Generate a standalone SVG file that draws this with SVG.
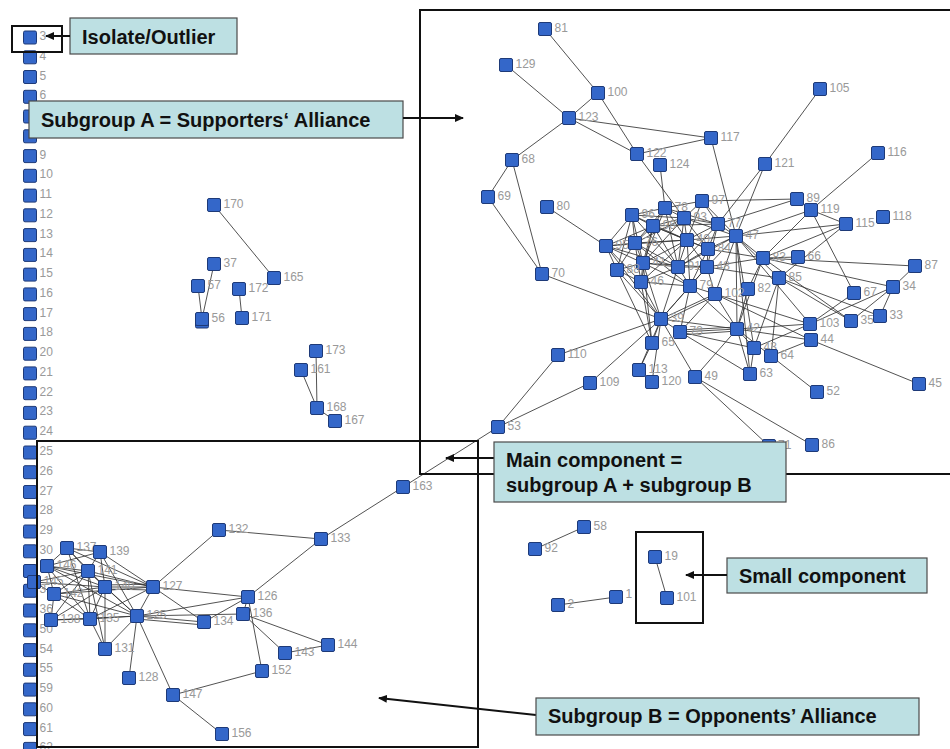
<svg xmlns="http://www.w3.org/2000/svg" xmlns:xlink="http://www.w3.org/1999/xlink" width="950" height="749" viewBox="0 0 950 749">
<style>
  .bg{fill:#ffffff}
  .ed line{stroke:#333;stroke-width:0.85;fill:none}
  .nd use{fill:#3467c9;stroke:#1e3a78;stroke-width:1}
  .nd text{font-family:"Liberation Sans",Arial,sans-serif;font-size:12px;fill:#999999}
  .frame{fill:none;stroke:#111;stroke-width:2}
  .call rect{fill:#bde0e3;stroke:#4a4a4a;stroke-width:1.2}
  .call text{font-family:"Liberation Sans",Arial,sans-serif;font-size:20px;font-weight:bold;fill:#111}
  .arr{stroke:#111;stroke-width:2;fill:none;marker-end:url(#ah)}
</style>
<defs>
  <rect id="sq" x="-6.5" y="-6.5" width="13" height="13" rx="1.5"/>
  <marker id="ah" markerUnits="userSpaceOnUse" markerWidth="9" markerHeight="8" refX="8" refY="4" orient="auto">
    <path d="M0,0 L9,4 L0,8 z" fill="#111"/>
  </marker>
</defs>
<rect class="bg" x="0" y="0" width="950" height="749"/>

<!-- connectors -->
<g id="edges" class="ed">
  <!-- small pieces -->
  <line x1="214" y1="205" x2="274" y2="278"/>
  <line x1="214" y1="264" x2="202" y2="319"/>
  <line x1="198" y1="286" x2="202" y2="319"/>
  <line x1="239" y1="289" x2="242" y2="318"/>
  <line x1="316" y1="351" x2="317" y2="408"/>
  <line x1="301" y1="370" x2="317" y2="408"/>
  <line x1="317" y1="408" x2="335" y2="421"/>
  <line x1="535" y1="549" x2="584" y2="527"/>
  <line x1="655" y1="557" x2="667" y2="598"/>
  <line x1="558" y1="605" x2="616" y2="597"/>
  <!-- subgroup A: outer ties -->
  <line x1="545" y1="29" x2="598" y2="93"/>
  <line x1="506" y1="65" x2="569" y2="118"/>
  <line x1="598" y1="93" x2="569" y2="118"/>
  <line x1="598" y1="93" x2="637" y2="154"/>
  <line x1="569" y1="118" x2="711" y2="138"/>
  <line x1="569" y1="118" x2="637" y2="154"/>
  <line x1="569" y1="118" x2="512" y2="160"/>
  <line x1="637" y1="154" x2="711" y2="138"/>
  <line x1="637" y1="154" x2="684" y2="218"/>
  <line x1="660" y1="165" x2="665" y2="208"/>
  <line x1="711" y1="138" x2="736" y2="236"/>
  <line x1="820" y1="89" x2="765" y2="164"/>
  <line x1="765" y1="164" x2="736" y2="236"/>
  <line x1="765" y1="164" x2="718" y2="224"/>
  <line x1="878" y1="153" x2="811" y2="210"/>
  <line x1="512" y1="160" x2="488" y2="197"/>
  <line x1="512" y1="160" x2="542" y2="274"/>
  <line x1="488" y1="197" x2="542" y2="274"/>
  <line x1="547" y1="207" x2="606" y2="246"/>
  <line x1="542" y1="274" x2="661" y2="319"/>
  <line x1="702" y1="201" x2="797" y2="199"/>
  <line x1="797" y1="199" x2="718" y2="224"/>
  <line x1="811" y1="210" x2="736" y2="236"/>
  <line x1="811" y1="210" x2="846" y2="224"/>
  <line x1="811" y1="210" x2="763" y2="258"/>
  <line x1="811" y1="210" x2="854" y2="293"/>
  <line x1="846" y1="224" x2="736" y2="236"/>
  <line x1="846" y1="224" x2="763" y2="258"/>
  <line x1="846" y1="224" x2="779" y2="278"/>
  <line x1="763" y1="258" x2="798" y2="257"/>
  <line x1="763" y1="258" x2="915" y2="266"/>
  <line x1="915" y1="266" x2="893" y2="287"/>
  <line x1="763" y1="258" x2="893" y2="287"/>
  <line x1="893" y1="287" x2="880" y2="316"/>
  <line x1="893" y1="287" x2="851" y2="321"/>
  <line x1="779" y1="278" x2="880" y2="316"/>
  <line x1="779" y1="278" x2="851" y2="321"/>
  <line x1="763" y1="258" x2="851" y2="321"/>
  <line x1="854" y1="293" x2="810" y2="324"/>
  <line x1="893" y1="287" x2="810" y2="324"/>
  <line x1="779" y1="278" x2="771" y2="356"/>
  <line x1="779" y1="278" x2="754" y2="348"/>
  <line x1="736" y1="236" x2="737" y2="329"/>
  <line x1="736" y1="236" x2="715" y2="294"/>
  <line x1="736" y1="236" x2="754" y2="348"/>
  <line x1="736" y1="236" x2="810" y2="324"/>
  <line x1="736" y1="236" x2="763" y2="258"/>
  <line x1="736" y1="236" x2="779" y2="278"/>
  <line x1="736" y1="236" x2="750" y2="374"/>
  <line x1="748" y1="289" x2="763" y2="258"/>
  <line x1="748" y1="289" x2="737" y2="329"/>
  <line x1="737" y1="329" x2="810" y2="324"/>
  <line x1="737" y1="329" x2="811" y2="340"/>
  <line x1="737" y1="329" x2="754" y2="348"/>
  <line x1="737" y1="329" x2="750" y2="374"/>
  <line x1="737" y1="329" x2="771" y2="356"/>
  <line x1="737" y1="329" x2="695" y2="377"/>
  <line x1="737" y1="329" x2="680" y2="332"/>
  <line x1="737" y1="327" x2="680" y2="330"/>
  <line x1="737" y1="331" x2="680" y2="335"/>
  <line x1="737" y1="329" x2="661" y2="319"/>
  <line x1="737" y1="329" x2="690" y2="286"/>
  <line x1="737" y1="329" x2="715" y2="294"/>
  <line x1="737" y1="329" x2="763" y2="258"/>
  <line x1="715" y1="294" x2="810" y2="324"/>
  <line x1="715" y1="294" x2="811" y2="340"/>
  <line x1="715" y1="294" x2="661" y2="319"/>
  <line x1="715" y1="296" x2="661" y2="322"/>
  <line x1="715" y1="294" x2="680" y2="332"/>
  <line x1="811" y1="340" x2="919" y2="384"/>
  <line x1="771" y1="356" x2="817" y2="392"/>
  <line x1="811" y1="340" x2="771" y2="356"/>
  <line x1="754" y1="348" x2="750" y2="374"/>
  <line x1="810" y1="324" x2="754" y2="348"/>
  <line x1="680" y1="332" x2="750" y2="374"/>
  <line x1="680" y1="332" x2="754" y2="348"/>
  <line x1="661" y1="319" x2="558" y2="355"/>
  <line x1="661" y1="319" x2="590" y2="383"/>
  <line x1="661" y1="319" x2="652" y2="343"/>
  <line x1="661" y1="319" x2="639" y2="370"/>
  <line x1="661" y1="319" x2="652" y2="382"/>
  <line x1="661" y1="319" x2="695" y2="377"/>
  <line x1="661" y1="319" x2="680" y2="332"/>
  <line x1="661" y1="319" x2="690" y2="286"/>
  <line x1="661" y1="319" x2="641" y2="282"/>
  <line x1="661" y1="319" x2="617" y2="270"/>
  <line x1="661" y1="319" x2="643" y2="263"/>
  <line x1="661" y1="319" x2="678" y2="267"/>
  <line x1="661" y1="319" x2="707" y2="267"/>
  <line x1="661" y1="319" x2="606" y2="246"/>
  <line x1="652" y1="343" x2="639" y2="370"/>
  <line x1="652" y1="343" x2="641" y2="282"/>
  <line x1="652" y1="343" x2="643" y2="263"/>
  <line x1="652" y1="343" x2="617" y2="270"/>
  <line x1="498" y1="427" x2="558" y2="355"/>
  <line x1="498" y1="427" x2="590" y2="383"/>
  <line x1="498" y1="427" x2="403" y2="487"/>
  <line x1="695" y1="377" x2="812" y2="445"/>
  <line x1="695" y1="377" x2="769" y2="446"/>
  <!-- subgroup A: dense core -->
  <line x1="606" y1="246" x2="632" y2="215"/>
  <line x1="606" y1="246" x2="635" y2="243"/>
  <line x1="606" y1="246" x2="643" y2="263"/>
  <line x1="606" y1="246" x2="617" y2="270"/>
  <line x1="606" y1="246" x2="641" y2="282"/>
  <line x1="606" y1="246" x2="653" y2="226"/>
  <line x1="606" y1="246" x2="678" y2="267"/>
  <line x1="606" y1="246" x2="687" y2="240"/>
  <line x1="632" y1="215" x2="665" y2="208"/>
  <line x1="632" y1="215" x2="653" y2="226"/>
  <line x1="632" y1="215" x2="635" y2="243"/>
  <line x1="632" y1="215" x2="643" y2="263"/>
  <line x1="632" y1="215" x2="684" y2="218"/>
  <line x1="632" y1="215" x2="678" y2="267"/>
  <line x1="632" y1="215" x2="687" y2="240"/>
  <line x1="632" y1="215" x2="617" y2="270"/>
  <line x1="653" y1="226" x2="665" y2="208"/>
  <line x1="653" y1="226" x2="684" y2="218"/>
  <line x1="653" y1="226" x2="635" y2="243"/>
  <line x1="653" y1="226" x2="643" y2="263"/>
  <line x1="653" y1="226" x2="678" y2="267"/>
  <line x1="653" y1="226" x2="687" y2="240"/>
  <line x1="653" y1="226" x2="708" y2="249"/>
  <line x1="653" y1="226" x2="718" y2="224"/>
  <line x1="653" y1="226" x2="641" y2="282"/>
  <line x1="635" y1="243" x2="643" y2="263"/>
  <line x1="635" y1="243" x2="678" y2="267"/>
  <line x1="635" y1="243" x2="617" y2="270"/>
  <line x1="635" y1="243" x2="641" y2="282"/>
  <line x1="635" y1="243" x2="687" y2="240"/>
  <line x1="635" y1="243" x2="684" y2="218"/>
  <line x1="635" y1="243" x2="690" y2="286"/>
  <line x1="635" y1="243" x2="665" y2="208"/>
  <line x1="665" y1="208" x2="684" y2="218"/>
  <line x1="665" y1="208" x2="702" y2="201"/>
  <line x1="665" y1="208" x2="687" y2="240"/>
  <line x1="665" y1="208" x2="678" y2="267"/>
  <line x1="665" y1="208" x2="718" y2="224"/>
  <line x1="665" y1="208" x2="643" y2="263"/>
  <line x1="684" y1="218" x2="702" y2="201"/>
  <line x1="684" y1="218" x2="718" y2="224"/>
  <line x1="684" y1="218" x2="687" y2="240"/>
  <line x1="684" y1="218" x2="678" y2="267"/>
  <line x1="684" y1="218" x2="708" y2="249"/>
  <line x1="684" y1="218" x2="736" y2="236"/>
  <line x1="684" y1="218" x2="643" y2="263"/>
  <line x1="702" y1="201" x2="718" y2="224"/>
  <line x1="702" y1="201" x2="736" y2="236"/>
  <line x1="702" y1="201" x2="687" y2="240"/>
  <line x1="718" y1="224" x2="736" y2="236"/>
  <line x1="718" y1="224" x2="687" y2="240"/>
  <line x1="718" y1="224" x2="708" y2="249"/>
  <line x1="718" y1="224" x2="707" y2="267"/>
  <line x1="718" y1="224" x2="678" y2="267"/>
  <line x1="687" y1="240" x2="678" y2="267"/>
  <line x1="687" y1="240" x2="708" y2="249"/>
  <line x1="687" y1="240" x2="707" y2="267"/>
  <line x1="687" y1="240" x2="643" y2="263"/>
  <line x1="687" y1="240" x2="736" y2="236"/>
  <line x1="687" y1="240" x2="690" y2="286"/>
  <line x1="687" y1="240" x2="641" y2="282"/>
  <line x1="643" y1="263" x2="678" y2="267"/>
  <line x1="643" y1="263" x2="641" y2="282"/>
  <line x1="643" y1="263" x2="617" y2="270"/>
  <line x1="643" y1="263" x2="690" y2="286"/>
  <line x1="643" y1="263" x2="707" y2="267"/>
  <line x1="678" y1="267" x2="690" y2="286"/>
  <line x1="678" y1="267" x2="707" y2="267"/>
  <line x1="678" y1="267" x2="641" y2="282"/>
  <line x1="678" y1="267" x2="708" y2="249"/>
  <line x1="678" y1="267" x2="736" y2="236"/>
  <line x1="708" y1="249" x2="707" y2="267"/>
  <line x1="708" y1="249" x2="736" y2="236"/>
  <line x1="708" y1="249" x2="763" y2="258"/>
  <line x1="708" y1="249" x2="690" y2="286"/>
  <line x1="707" y1="267" x2="763" y2="258"/>
  <line x1="707" y1="267" x2="690" y2="286"/>
  <line x1="707" y1="267" x2="715" y2="294"/>
  <line x1="707" y1="267" x2="779" y2="278"/>
  <line x1="707" y1="267" x2="736" y2="236"/>
  <line x1="617" y1="270" x2="641" y2="282"/>
  <line x1="641" y1="282" x2="690" y2="286"/>
  <line x1="690" y1="286" x2="715" y2="294"/>
  <line x1="690" y1="286" x2="680" y2="332"/>
  <!-- subgroup B -->
  <line x1="67" y1="548" x2="100" y2="552"/>
  <line x1="67" y1="548" x2="88" y2="571"/>
  <line x1="67" y1="548" x2="105" y2="587"/>
  <line x1="67" y1="548" x2="153" y2="587"/>
  <line x1="67" y1="548" x2="90" y2="619"/>
  <line x1="67" y1="548" x2="47" y2="566"/>
  <line x1="100" y1="552" x2="88" y2="571"/>
  <line x1="100" y1="552" x2="153" y2="587"/>
  <line x1="100" y1="552" x2="47" y2="566"/>
  <line x1="100" y1="552" x2="105" y2="587"/>
  <line x1="100" y1="552" x2="137" y2="616"/>
  <line x1="47" y1="566" x2="88" y2="571"/>
  <line x1="47" y1="566" x2="105" y2="587"/>
  <line x1="47" y1="566" x2="137" y2="616"/>
  <line x1="47" y1="566" x2="90" y2="619"/>
  <line x1="47" y1="566" x2="54" y2="594"/>
  <line x1="47" y1="566" x2="153" y2="587"/>
  <line x1="88" y1="571" x2="153" y2="587"/>
  <line x1="88" y1="571" x2="105" y2="587"/>
  <line x1="88" y1="571" x2="137" y2="616"/>
  <line x1="88" y1="571" x2="90" y2="619"/>
  <line x1="88" y1="571" x2="54" y2="594"/>
  <line x1="88" y1="571" x2="51" y2="620"/>
  <line x1="88" y1="571" x2="105" y2="649"/>
  <line x1="34" y1="582" x2="54" y2="594"/>
  <line x1="34" y1="582" x2="105" y2="587"/>
  <line x1="34" y1="582" x2="88" y2="571"/>
  <line x1="105" y1="587" x2="153" y2="587"/>
  <line x1="105" y1="585" x2="153" y2="584"/>
  <line x1="105" y1="589" x2="153" y2="590"/>
  <line x1="105" y1="587" x2="137" y2="616"/>
  <line x1="105" y1="587" x2="90" y2="619"/>
  <line x1="105" y1="587" x2="105" y2="649"/>
  <line x1="105" y1="587" x2="51" y2="620"/>
  <line x1="105" y1="587" x2="54" y2="594"/>
  <line x1="54" y1="594" x2="51" y2="620"/>
  <line x1="54" y1="594" x2="90" y2="619"/>
  <line x1="54" y1="594" x2="137" y2="616"/>
  <line x1="54" y1="594" x2="153" y2="587"/>
  <line x1="51" y1="620" x2="90" y2="619"/>
  <line x1="51" y1="620" x2="137" y2="616"/>
  <line x1="90" y1="619" x2="137" y2="616"/>
  <line x1="90" y1="619" x2="105" y2="649"/>
  <line x1="90" y1="619" x2="153" y2="587"/>
  <line x1="153" y1="587" x2="137" y2="616"/>
  <line x1="153" y1="587" x2="219" y2="530"/>
  <line x1="153" y1="587" x2="248" y2="597"/>
  <line x1="153" y1="587" x2="204" y2="622"/>
  <line x1="137" y1="616" x2="248" y2="597"/>
  <line x1="137" y1="616" x2="243" y2="614"/>
  <line x1="137" y1="616" x2="204" y2="622"/>
  <line x1="137" y1="619" x2="204" y2="625"/>
  <line x1="137" y1="616" x2="105" y2="649"/>
  <line x1="137" y1="616" x2="129" y2="678"/>
  <line x1="137" y1="616" x2="173" y2="695"/>
  <line x1="219" y1="530" x2="321" y2="539"/>
  <line x1="321" y1="539" x2="248" y2="597"/>
  <line x1="321" y1="539" x2="403" y2="487"/>
  <line x1="248" y1="597" x2="243" y2="614"/>
  <line x1="248" y1="597" x2="262" y2="671"/>
  <line x1="248" y1="597" x2="204" y2="622"/>
  <line x1="243" y1="614" x2="285" y2="653"/>
  <line x1="243" y1="614" x2="328" y2="645"/>
  <line x1="285" y1="653" x2="328" y2="645"/>
  <line x1="262" y1="671" x2="173" y2="695"/>
  <line x1="173" y1="695" x2="222" y2="734"/>
</g>

<!-- isolates in a column -->
<g class="nd">
  <g id="n3" transform="translate(30 37.5)"><use href="#sq"/><text x="9.5" y="2.5">3</text></g>
  <g id="n4" transform="translate(30 57.3)"><use href="#sq"/><text x="9.5" y="2.5">4</text></g>
  <g id="n5" transform="translate(30 77)"><use href="#sq"/><text x="9.5" y="2.5">5</text></g>
  <g id="n6" transform="translate(30 96.8)"><use href="#sq"/><text x="9.5" y="2.5">6</text></g>
  <g id="n7" transform="translate(30 116.5)"><use href="#sq"/></g>
  <g id="n8" transform="translate(30 136.3)"><use href="#sq"/></g>
  <g id="n9" transform="translate(30 156.1)"><use href="#sq"/><text x="9.5" y="2.5">9</text></g>
  <g id="n10" transform="translate(30 175.8)"><use href="#sq"/><text x="9.5" y="2.5">10</text></g>
  <g id="n11" transform="translate(30 195.6)"><use href="#sq"/><text x="9.5" y="2.5">11</text></g>
  <g id="n12" transform="translate(30 215.3)"><use href="#sq"/><text x="9.5" y="2.5">12</text></g>
  <g id="n13" transform="translate(30 235.1)"><use href="#sq"/><text x="9.5" y="2.5">13</text></g>
  <g id="n14" transform="translate(30 254.9)"><use href="#sq"/><text x="9.5" y="2.5">14</text></g>
  <g id="n15" transform="translate(30 274.6)"><use href="#sq"/><text x="9.5" y="2.5">15</text></g>
  <g id="n16" transform="translate(30 294.4)"><use href="#sq"/><text x="9.5" y="2.5">16</text></g>
  <g id="n17" transform="translate(30 314.1)"><use href="#sq"/><text x="9.5" y="2.5">17</text></g>
  <g id="n18" transform="translate(30 333.9)"><use href="#sq"/><text x="9.5" y="2.5">18</text></g>
  <g id="n20" transform="translate(30 353.7)"><use href="#sq"/><text x="9.5" y="2.5">20</text></g>
  <g id="n21" transform="translate(30 373.4)"><use href="#sq"/><text x="9.5" y="2.5">21</text></g>
  <g id="n22" transform="translate(30 393.2)"><use href="#sq"/><text x="9.5" y="2.5">22</text></g>
  <g id="n23" transform="translate(30 412.9)"><use href="#sq"/><text x="9.5" y="2.5">23</text></g>
  <g id="n24" transform="translate(30 432.7)"><use href="#sq"/><text x="9.5" y="2.5">24</text></g>
  <g id="n25" transform="translate(30 452.5)"><use href="#sq"/><text x="9.5" y="2.5">25</text></g>
  <g id="n26" transform="translate(30 472.2)"><use href="#sq"/><text x="9.5" y="2.5">26</text></g>
  <g id="n27" transform="translate(30 492)"><use href="#sq"/><text x="9.5" y="2.5">27</text></g>
  <g id="n28" transform="translate(30 511.7)"><use href="#sq"/><text x="9.5" y="2.5">28</text></g>
  <g id="n29" transform="translate(30 531.5)"><use href="#sq"/><text x="9.5" y="2.5">29</text></g>
  <g id="n30" transform="translate(30 551.3)"><use href="#sq"/><text x="9.5" y="2.5">30</text></g>
  <g id="n31" transform="translate(30 571)"><use href="#sq"/></g>
  <g id="n32" transform="translate(30 590.8)"><use href="#sq"/><text x="9.5" y="2.5">3</text></g>
  <g id="n36" transform="translate(30 610.5)"><use href="#sq"/><text x="9.5" y="2.5">36</text></g>
  <g id="n50" transform="translate(30 630.3)"><use href="#sq"/><text x="9.5" y="2.5">50</text></g>
  <g id="n54" transform="translate(30 650.1)"><use href="#sq"/><text x="9.5" y="2.5">54</text></g>
  <g id="n55" transform="translate(30 669.8)"><use href="#sq"/><text x="9.5" y="2.5">55</text></g>
  <g id="n59" transform="translate(30 689.6)"><use href="#sq"/><text x="9.5" y="2.5">59</text></g>
  <g id="n60" transform="translate(30 709.3)"><use href="#sq"/><text x="9.5" y="2.5">60</text></g>
  <g id="n61" transform="translate(30 729.1)"><use href="#sq"/><text x="9.5" y="2.5">61</text></g>
  <g id="n62" transform="translate(30 748.9)"><use href="#sq"/><text x="9.5" y="2.5">62</text></g>
</g>

<!-- small pieces -->
<g class="nd">
  <g id="n170" transform="translate(214 205)"><use href="#sq"/><text x="9.5" y="2.5">170</text></g>
  <g id="n165" transform="translate(274 278)"><use href="#sq"/><text x="9.5" y="2.5">165</text></g>
  <g id="n37" transform="translate(214 264)"><use href="#sq"/><text x="9.5" y="2.5">37</text></g>
  <g id="n57" transform="translate(198 286)"><use href="#sq"/><text x="9.5" y="2.5">57</text></g>
  <g id="n56" transform="translate(202 319)"><use href="#sq" y="2.5"/><use href="#sq"/><text x="9.5" y="2.5">56</text></g>
  <g id="n172" transform="translate(239 289)"><use href="#sq"/><text x="9.5" y="2.5">172</text></g>
  <g id="n171" transform="translate(242 318)"><use href="#sq"/><text x="9.5" y="2.5">171</text></g>
  <g id="n173" transform="translate(316 351)"><use href="#sq"/><text x="9.5" y="2.5">173</text></g>
  <g id="n161" transform="translate(301 370)"><use href="#sq"/><text x="9.5" y="2.5">161</text></g>
  <g id="n168" transform="translate(317 408)"><use href="#sq"/><text x="9.5" y="2.5">168</text></g>
  <g id="n167" transform="translate(335 421)"><use href="#sq"/><text x="9.5" y="2.5">167</text></g>
  <g id="n58" transform="translate(584 527)"><use href="#sq"/><text x="9.5" y="2.5">58</text></g>
  <g id="n92" transform="translate(535 549)"><use href="#sq"/><text x="9.5" y="2.5">92</text></g>
  <g id="n19" transform="translate(655 557)"><use href="#sq"/><text x="9.5" y="2.5">19</text></g>
  <g id="n101" transform="translate(667 598)"><use href="#sq"/><text x="9.5" y="2.5">101</text></g>
  <g id="n2" transform="translate(558 605)"><use href="#sq"/><text x="9.5" y="2.5">2</text></g>
  <g id="n1" transform="translate(616 597)"><use href="#sq"/><text x="9.5" y="0.5">1</text></g>
</g>

<!-- subgroup A -->
<g class="nd">
  <g id="n81" transform="translate(545 29)"><use href="#sq"/><text x="9.5" y="2.5">81</text></g>
  <g id="n129" transform="translate(506 65)"><use href="#sq"/><text x="9.5" y="2.5">129</text></g>
  <g id="n100" transform="translate(598 93)"><use href="#sq"/><text x="9.5" y="2.5">100</text></g>
  <g id="n123" transform="translate(569 118)"><use href="#sq"/><text x="9.5" y="2.5">123</text></g>
  <g id="n105" transform="translate(820 89)"><use href="#sq"/><text x="9.5" y="2.5">105</text></g>
  <g id="n117" transform="translate(711 138)"><use href="#sq"/><text x="9.5" y="2.5">117</text></g>
  <g id="n122" transform="translate(637 154)"><use href="#sq"/><text x="9.5" y="2.5">122</text></g>
  <g id="n124" transform="translate(660 165)"><use href="#sq"/><text x="9.5" y="2.5">124</text></g>
  <g id="n68" transform="translate(512 160)"><use href="#sq"/><text x="9.5" y="2.5">68</text></g>
  <g id="n121" transform="translate(765 164)"><use href="#sq"/><text x="9.5" y="2.5">121</text></g>
  <g id="n116" transform="translate(878 153)"><use href="#sq"/><text x="9.5" y="2.5">116</text></g>
  <g id="n69" transform="translate(488 197)"><use href="#sq"/><text x="9.5" y="2.5">69</text></g>
  <g id="n80" transform="translate(547 207)"><use href="#sq"/><text x="9.5" y="2.5">80</text></g>
  <g id="n97" transform="translate(702 201)"><use href="#sq"/><text x="9.5" y="2.5">97</text></g>
  <g id="n89" transform="translate(797 199)"><use href="#sq"/><text x="9.5" y="2.5">89</text></g>
  <g id="n119" transform="translate(811 210)"><use href="#sq"/><text x="9.5" y="2.5">119</text></g>
  <g id="n118" transform="translate(883 217)"><use href="#sq"/><text x="9.5" y="2.5">118</text></g>
  <g id="n115" transform="translate(846 224)"><use href="#sq"/><text x="9.5" y="2.5">115</text></g>
  <g id="n78" transform="translate(665 208)"><use href="#sq"/><text x="9.5" y="2.5">78</text></g>
  <g id="n96" transform="translate(632 215)"><use href="#sq"/><text x="9.5" y="2.5">96</text></g>
  <g id="n93" transform="translate(684 218)"><use href="#sq"/><text x="9.5" y="2.5">93</text></g>
  <g id="n98" transform="translate(653 226)"><use href="#sq"/><text x="9.5" y="2.5">98</text></g>
  <g id="n77" transform="translate(718 224)"><use href="#sq"/><text x="9.5" y="2.5">77</text></g>
  <g id="n47" transform="translate(736 236)"><use href="#sq"/><text x="9.5" y="2.5">47</text></g>
  <g id="n40" transform="translate(687 240)"><use href="#sq"/><text x="9.5" y="2.5">40</text></g>
  <g id="n95" transform="translate(606 246)"><use href="#sq"/><text x="9.5" y="2.5">95</text></g>
  <g id="n76" transform="translate(635 243)"><use href="#sq"/><text x="9.5" y="2.5">76</text></g>
  <g id="n84" transform="translate(708 249)"><use href="#sq"/><text x="9.5" y="2.5">84</text></g>
  <g id="n83" transform="translate(763 258)"><use href="#sq"/><text x="9.5" y="2.5">83</text></g>
  <g id="n66" transform="translate(798 257)"><use href="#sq"/><text x="9.5" y="2.5">66</text></g>
  <g id="n87" transform="translate(915 266)"><use href="#sq"/><text x="9.5" y="2.5">87</text></g>
  <g id="n41" transform="translate(643 263)"><use href="#sq"/><text x="9.5" y="2.5">41</text></g>
  <g id="n88" transform="translate(617 270)"><use href="#sq"/><text x="9.5" y="2.5">88</text></g>
  <g id="n91" transform="translate(678 267)"><use href="#sq"/><text x="9.5" y="2.5">91</text></g>
  <g id="n48" transform="translate(707 267)"><use href="#sq"/><text x="9.5" y="2.5">48</text></g>
  <g id="n85" transform="translate(779 278)"><use href="#sq"/><text x="9.5" y="2.5">85</text></g>
  <g id="n46" transform="translate(641 282)"><use href="#sq"/><text x="9.5" y="2.5">46</text></g>
  <g id="n79" transform="translate(690 286)"><use href="#sq"/><text x="9.5" y="2.5">79</text></g>
  <g id="n82" transform="translate(748 289)"><use href="#sq"/><text x="9.5" y="2.5">82</text></g>
  <g id="n102" transform="translate(715 294)"><use href="#sq"/><text x="9.5" y="2.5">102</text></g>
  <g id="n67" transform="translate(854 293)"><use href="#sq"/><text x="9.5" y="2.5">67</text></g>
  <g id="n34" transform="translate(893 287)"><use href="#sq"/><text x="9.5" y="2.5">34</text></g>
  <g id="n35" transform="translate(851 321)"><use href="#sq"/><text x="9.5" y="2.5">35</text></g>
  <g id="n33" transform="translate(880 316)"><use href="#sq"/><text x="9.5" y="2.5">33</text></g>
  <g id="n103" transform="translate(810 324)"><use href="#sq"/><text x="9.5" y="2.5">103</text></g>
  <g id="n44" transform="translate(811 340)"><use href="#sq"/><text x="9.5" y="2.5">44</text></g>
  <g id="n42" transform="translate(737 329)"><use href="#sq"/><text x="9.5" y="2.5">42</text></g>
  <g id="n43" transform="translate(754 348)"><use href="#sq"/><text x="9.5" y="2.5">43</text></g>
  <g id="n64" transform="translate(771 356)"><use href="#sq"/><text x="9.5" y="2.5">64</text></g>
  <g id="n63" transform="translate(750 374)"><use href="#sq"/><text x="9.5" y="2.5">63</text></g>
  <g id="n45" transform="translate(919 384)"><use href="#sq"/><text x="9.5" y="2.5">45</text></g>
  <g id="n52" transform="translate(817 392)"><use href="#sq"/><text x="9.5" y="2.5">52</text></g>
  <g id="n39" transform="translate(661 319)"><use href="#sq"/><text x="9.5" y="2.5">39</text></g>
  <g id="n73" transform="translate(680 332)"><use href="#sq"/><text x="9.5" y="2.5">73</text></g>
  <g id="n65" transform="translate(652 343)"><use href="#sq"/><text x="9.5" y="2.5">65</text></g>
  <g id="n110" transform="translate(558 355)"><use href="#sq"/><text x="9.5" y="2.5">110</text></g>
  <g id="n109" transform="translate(590 383)"><use href="#sq"/><text x="9.5" y="2.5">109</text></g>
  <g id="n113" transform="translate(639 370)"><use href="#sq"/><text x="9.5" y="2.5">113</text></g>
  <g id="n120" transform="translate(652 382)"><use href="#sq"/><text x="9.5" y="2.5">120</text></g>
  <g id="n49" transform="translate(695 377)"><use href="#sq"/><text x="9.5" y="2.5">49</text></g>
  <g id="n53" transform="translate(498 427)"><use href="#sq"/><text x="9.5" y="2.5">53</text></g>
  <g id="n86" transform="translate(812 445)"><use href="#sq"/><text x="9.5" y="2.5">86</text></g>
  <g id="n70" transform="translate(542 274)"><use href="#sq"/><text x="9.5" y="2.5">70</text></g>
  <g id="n71" transform="translate(769 446)"><use href="#sq"/><text x="9" y="2.5">71</text></g>
</g>

<!-- subgroup B -->
<g class="nd">
  <g id="n137" transform="translate(67 548)"><use href="#sq"/><text x="9.5" y="2.5">137</text></g>
  <g id="n139" transform="translate(100 552)"><use href="#sq"/><text x="9.5" y="2.5">139</text></g>
  <g id="n146" transform="translate(47 566)"><use href="#sq"/><text x="9.5" y="2.5">146</text></g>
  <g id="n141" transform="translate(88 571)"><use href="#sq"/><text x="9.5" y="2.5">141</text></g>
  <g id="n145" transform="translate(34 582)"><use href="#sq"/><text x="9.5" y="2.5">145</text></g>
  <g id="n140" transform="translate(105 587)"><use href="#sq"/><text x="9.5" y="2.5">140</text></g>
  <g id="n127" transform="translate(153 587)"><use href="#sq"/><text x="9.5" y="2.5">127</text></g>
  <g id="n142" transform="translate(54 594)"><use href="#sq"/><text x="9.5" y="2.5">142</text></g>
  <g id="n138" transform="translate(51 620)"><use href="#sq"/><text x="9.5" y="2.5">138</text></g>
  <g id="n135" transform="translate(90 619)"><use href="#sq"/><text x="9.5" y="2.5">135</text></g>
  <g id="n125" transform="translate(137 616)"><use href="#sq"/><text x="9.5" y="2.5">125</text></g>
  <g id="n134" transform="translate(204 622)"><use href="#sq"/><text x="9.5" y="2.5">134</text></g>
  <g id="n131" transform="translate(105 649)"><use href="#sq"/><text x="9.5" y="2.5">131</text></g>
  <g id="n128" transform="translate(129 678)"><use href="#sq"/><text x="9.5" y="2.5">128</text></g>
  <g id="n147" transform="translate(173 695)"><use href="#sq"/><text x="9.5" y="2.5">147</text></g>
  <g id="n156" transform="translate(222 734)"><use href="#sq"/><text x="9.5" y="2.5">156</text></g>
  <g id="n132" transform="translate(219 530)"><use href="#sq"/><text x="9.5" y="2.5">132</text></g>
  <g id="n126" transform="translate(248 597)"><use href="#sq"/><text x="9.5" y="2.5">126</text></g>
  <g id="n136" transform="translate(243 614)"><use href="#sq"/><text x="9.5" y="2.5">136</text></g>
  <g id="n152" transform="translate(262 671)"><use href="#sq"/><text x="9.5" y="2.5">152</text></g>
  <g id="n143" transform="translate(285 653)"><use href="#sq"/><text x="9.5" y="2.5">143</text></g>
  <g id="n144" transform="translate(328 645)"><use href="#sq"/><text x="9.5" y="2.5">144</text></g>
  <g id="n133" transform="translate(321 539)"><use href="#sq"/><text x="9.5" y="2.5">133</text></g>
  <g id="n163" transform="translate(403 487)"><use href="#sq"/><text x="9.5" y="2.5">163</text></g>
</g>

<!-- outline boxes -->
<g id="frames">
  <rect class="frame" x="12" y="26" width="50" height="26"/>
  <path class="frame" d="M950,10 H420 V474 H950"/>
  <rect class="frame" x="37" y="441" width="441" height="306"/>
  <rect class="frame" x="636" y="532" width="67" height="91"/>
</g>

<!-- callouts -->
<g id="callouts" class="call">
  <g id="c-isolate">
    <rect x="70" y="18" width="167" height="36"/>
    <text x="82" y="43.5">Isolate/Outlier</text>
    <line class="arr" x1="70" y1="36" x2="46" y2="36"/>
  </g>
  <g id="c-groupA">
    <rect x="29" y="101" width="374" height="37"/>
    <text x="41" y="127">Subgroup A = Supporters‘ Alliance</text>
    <line class="arr" x1="403" y1="118" x2="463" y2="118"/>
  </g>
  <g id="c-main">
    <line class="arr" x1="494" y1="458" x2="446" y2="458"/>
    <rect x="494" y="442" width="292" height="60"/>
    <text x="506" y="467">Main component =</text>
    <text x="506" y="492">subgroup A + subgroup B</text>
  </g>
  <g id="c-small">
    <rect x="727" y="558" width="200" height="35"/>
    <text x="739" y="583">Small component</text>
    <line class="arr" x1="727" y1="575" x2="686" y2="575"/>
  </g>
  <g id="c-groupB">
    <line class="arr" x1="536" y1="715" x2="379" y2="698"/>
    <rect x="536" y="698" width="383" height="37"/>
    <text x="548" y="723">Subgroup B = Opponents’ Alliance</text>
  </g>
</g>
</svg>
